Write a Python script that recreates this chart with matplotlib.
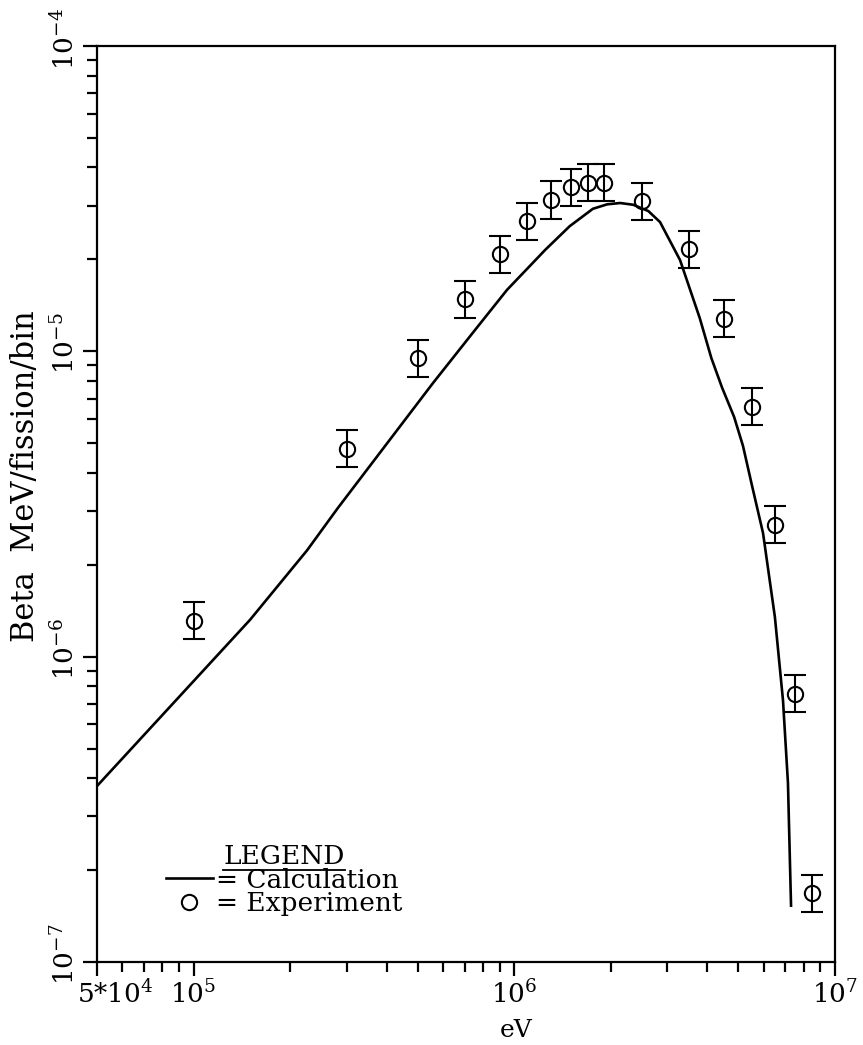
import numpy as np
import matplotlib
matplotlib.use('Agg')
import matplotlib.pyplot as plt
from matplotlib.ticker import FixedLocator, FixedFormatter, LogLocator, NullFormatter
from matplotlib.lines import Line2D
import matplotlib.transforms as mtransforms

plt.rcParams['font.family'] = ['DejaVu Serif']
plt.rcParams['mathtext.fontset'] = 'dejavuserif'

# calculated spectrum
calc_ev = [5.0e4, 1.50e5, 2.26e5, 2.82e5, 5.58e5, 7.55e5, 9.5e5, 1.25e6, 1.49e6,
           1.76e6, 1.95e6, 2.14e6, 2.35e6, 2.62e6, 2.85e6, 3.29e6, 3.79e6, 4.12e6,
           4.45e6, 4.85e6, 5.17e6, 5.51e6, 5.97e6, 6.50e6, 6.89e6, 7.14e6, 7.30e6]
calc_val = [3.77e-7, 1.32e-6, 2.23e-6, 3.07e-6, 7.87e-6, 1.175e-5, 1.59e-5, 2.15e-5, 2.57e-5,
            2.93e-5, 3.03e-5, 3.06e-5, 3.02e-5, 2.88e-5, 2.65e-5, 1.99e-5, 1.285e-5, 9.5e-6,
            7.6e-6, 6.1e-6, 4.9e-6, 3.65e-6, 2.54e-6, 1.35e-6, 7.2e-7, 3.86e-7, 1.53e-7]

# experiment points
exp_ev = [1e5, 3e5, 5e5, 7e5, 9e5, 1.1e6, 1.3e6, 1.5e6, 1.7e6, 1.9e6,
          2.5e6, 3.5e6, 4.5e6, 5.5e6, 6.5e6, 7.5e6, 8.5e6]
exp_val = [1.31e-6, 4.79e-6, 9.5e-6, 1.48e-5, 2.08e-5, 2.67e-5, 3.13e-5, 3.45e-5, 3.56e-5, 3.56e-5,
           3.1e-5, 2.16e-5, 1.28e-5, 6.58e-6, 2.70e-6, 7.55e-7, 1.68e-7]
exp_err_pct = [15, 15, 15, 15, 15, 15, 15, 15, 15, 15,
               15, 15, 15, 15, 15, 15, 15]

x_ticks = [5e4, 1e5, 1e6, 1e7]
x_ticklabels = ['5*$10^{4}$', '$10^{5}$', '$10^{6}$', '$10^{7}$']
y_ticks = [1e-7, 1e-6, 1e-5, 1e-4]
y_ticklabels = ['$10^{-7}$', '$10^{-6}$', '$10^{-5}$', '$10^{-4}$']

fig = plt.figure(figsize=(8.63, 10.45), dpi=100)
ax = fig.add_axes([0.1124, 0.0794, 0.855, 0.8766])

ax.plot(calc_ev, calc_val, color='k', lw=1.9)

y = np.array(exp_val)
e = np.array(exp_err_pct) / 100.0
yerr = [y - y / (1 + e), y * e]
ax.errorbar(exp_ev, exp_val, yerr=yerr, fmt='o', ms=11, mfc='none', mec='k', mew=1.5,
            ecolor='k', elinewidth=1.5, capsize=8, capthick=1.8)

ax.set_xscale('log')
ax.set_yscale('log')
ax.set_xlim(5e4, 1e7)
ax.set_ylim(1e-7, 1e-4)

ax.xaxis.set_major_locator(FixedLocator(x_ticks))
ax.xaxis.set_major_formatter(FixedFormatter(x_ticklabels))
ax.xaxis.set_minor_locator(LogLocator(base=10, subs=np.arange(2, 10)))
ax.xaxis.set_minor_formatter(NullFormatter())
ax.yaxis.set_major_locator(FixedLocator(y_ticks))
ax.yaxis.set_major_formatter(FixedFormatter(y_ticklabels))
ax.yaxis.set_minor_locator(LogLocator(base=10, subs=np.arange(2, 10)))
ax.yaxis.set_minor_formatter(NullFormatter())

ax.tick_params(which='both', direction='out', width=1.6, top=False, right=False)
ax.tick_params(which='major', length=10, labelsize=19)
ax.tick_params(which='minor', length=7)
ax.tick_params(axis='y', which='major', labelrotation=90, pad=3)
ax.tick_params(axis='x', which='major', pad=3)
for s in ax.spines.values():
    s.set_linewidth(1.6)

# first x label sits to the right of its tick
lab0 = ax.xaxis.get_major_ticks()[0].label1
lab0.set_transform(lab0.get_transform() + mtransforms.ScaledTranslation(0.18, 0, fig.dpi_scale_trans))
# y labels: the "10" sits at the tick, exponent above
for t in ax.yaxis.get_major_ticks():
    t.label1.set_transform(t.label1.get_transform() + mtransforms.ScaledTranslation(0, 0.27, fig.dpi_scale_trans))

ax.set_ylabel('Beta  MeV/fission/bin', fontsize=22)
ax.yaxis.set_label_coords(-0.076, 0.53)
ax.set_xlabel('eV', fontsize=18)
ax.xaxis.set_label_coords(0.568, -0.062)

handles = [Line2D([], [], color='k', lw=1.9),
           Line2D([], [], ls='none', marker='o', ms=11, mfc='none', mec='k', mew=1.5)]
leg = ax.legend(handles, ['= Calculation', '= Experiment'], title='LEGEND',
                loc='lower left', bbox_to_anchor=(0.093, 0.05), frameon=False,
                fontsize=19, title_fontsize=19, handlelength=1.8, handletextpad=0.1,
                labelspacing=-0.05, borderaxespad=0, borderpad=0)

fig.canvas.draw()
tb = leg.get_title().get_window_extent().transformed(fig.transFigure.inverted())
fig.add_artist(Line2D([tb.x0, tb.x1], [tb.y0 - 0.001, tb.y0 - 0.001],
                      transform=fig.transFigure, color='k', lw=1.3))

fig.savefig('out.png', dpi=100)
